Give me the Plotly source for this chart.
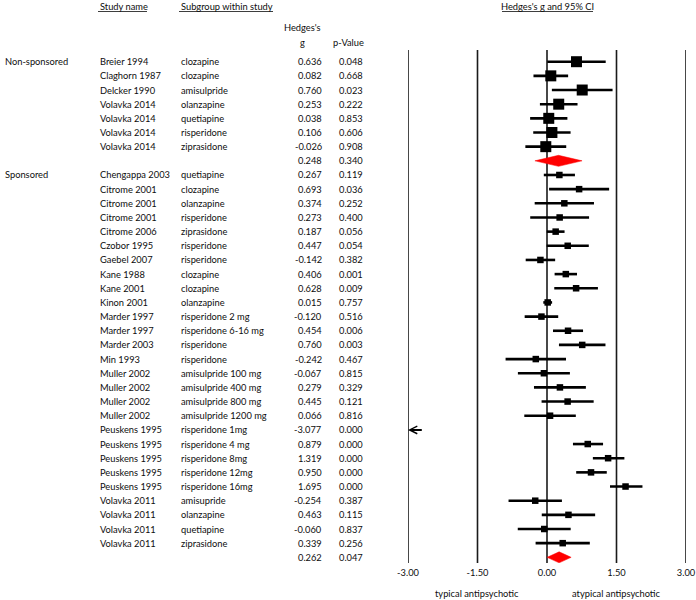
import plotly.graph_objects as go

# ---------------- data ----------------
group_names = ["Non-sponsored", "Sponsored"]

study_group = [0] * 7 + [1] * 27
study_name = [
    "Breier 1994", "Claghorn 1987", "Delcker 1990", "Volavka 2014", "Volavka 2014",
    "Volavka 2014", "Volavka 2014",
    "Chengappa 2003", "Citrome 2001", "Citrome 2001", "Citrome 2001", "Citrome 2006",
    "Czobor 1995", "Gaebel 2007", "Kane 1988", "Kane 2001", "Kinon 2001",
    "Marder 1997", "Marder 1997", "Marder 2003", "Min 1993",
    "Muller 2002", "Muller 2002", "Muller 2002", "Muller 2002",
    "Peuskens 1995", "Peuskens 1995", "Peuskens 1995", "Peuskens 1995", "Peuskens 1995",
    "Volavka 2011", "Volavka 2011", "Volavka 2011", "Volavka 2011",
]
subgroup = [
    "clozapine", "clozapine", "amisulpride", "olanzapine", "quetiapine", "risperidone",
    "ziprasidone",
    "quetiapine", "clozapine", "olanzapine", "risperidone", "ziprasidone",
    "risperidone", "risperidone", "clozapine", "clozapine", "olanzapine",
    "risperidone 2 mg", "risperidone 6-16 mg", "risperidone", "risperidone",
    "amisulpride 100 mg", "amisulpride 400 mg", "amisulpride 800 mg", "amisulpride 1200 mg",
    "risperidone 1mg", "risperidone 4 mg", "risperidone 8mg", "risperidone 12mg",
    "risperidone 16mg",
    "amisupride", "olanzapine", "quetiapine", "ziprasidone",
]
hedges_g = [
    0.636, 0.082, 0.760, 0.253, 0.038, 0.106, -0.026,
    0.267, 0.693, 0.374, 0.273, 0.187, 0.447, -0.142, 0.406, 0.628, 0.015,
    -0.120, 0.454, 0.760, -0.242, -0.067, 0.279, 0.445, 0.066,
    -3.077, 0.879, 1.319, 0.950, 1.695,
    -0.254, 0.463, -0.060, 0.339,
]
p_value = [
    "0.048", "0.668", "0.023", "0.222", "0.853", "0.606", "0.908",
    "0.119", "0.036", "0.252", "0.400", "0.056", "0.054", "0.382", "0.001", "0.009", "0.757",
    "0.516", "0.006", "0.003", "0.467", "0.815", "0.329", "0.121", "0.816",
    "0.000", "0.000", "0.000", "0.000", "0.000",
    "0.387", "0.115", "0.837", "0.256",
]
ci_lower = [
    0.006, -0.292, 0.105, -0.153, -0.364, -0.297, -0.467,
    -0.069, 0.045, -0.266, -0.362, -0.005, -0.008, -0.460, 0.164, 0.157, -0.080,
    -0.482, 0.130, 0.258, -0.894, -0.628, -0.281, -0.117, -0.490,
    -3.470, 0.560, 0.990, 0.630, 1.360,
    -0.830, -0.113, -0.631, -0.246,
]
ci_upper = [
    1.267, 0.456, 1.415, 0.659, 0.440, 0.509, 0.415,
    0.603, 1.341, 1.014, 0.908, 0.379, 0.902, 0.176, 0.648, 1.099, 0.110,
    0.242, 0.778, 1.262, 0.410, 0.494, 0.839, 1.007, 0.622,
    -2.670, 1.210, 1.670, 1.290, 2.060,
    0.322, 1.039, 0.511, 0.924,
]

summary_g = [0.248, 0.262]
summary_p = ["0.340", "0.047"]
summary_lower = [-0.261, 0.003]
summary_upper = [0.757, 0.521]

tick_vals = [-3.0, -1.5, 0.0, 1.5, 3.0]
tick_text = ["-3.00", "-1.50", "0.00", "1.50", "3.00"]
x_range = [-3.0, 3.0]

# ---------------- layout helpers ----------------
W, H = 696, 600
FONT = "Lato"
FS = 9.3
TXT = "#0d0d0d"


def px_x(p):
    return p / W


def px_y(p):
    return 1 - p / H


# build rows
rows = []
r = 0
for gi, gname in enumerate(group_names):
    first = True
    for i, g in enumerate(study_group):
        if g != gi:
            continue
        rows.append(dict(kind="study", row=r, idx=i, group=gname if first else "", gi=gi))
        first = False
        r += 1
    rows.append(dict(kind="summary", row=r, idx=gi, gi=gi))
    r += 1

fig = go.Figure()

# vertical reference lines
row_top, row_bot = -0.826, 35.40
for v in tick_vals:
    fig.add_shape(type="line", xref="x", yref="y", x0=v, x1=v, y0=row_top, y1=row_bot,
                  line=dict(color="#1a1a1a", width=1.6), layer="below")

# CI lines
lx, ly = [], []
for rw in rows:
    if rw["kind"] != "study":
        continue
    i = rw["idx"]
    lo, hi = ci_lower[i], ci_upper[i]
    if hedges_g[i] < x_range[0]:
        continue
    lx += [max(lo, x_range[0]), min(hi, x_range[1]), None]
    ly += [rw["row"], rw["row"], None]
fig.add_trace(go.Scatter(x=lx, y=ly, mode="lines", line=dict(color="black", width=2.6),
                         hoverinfo="skip", showlegend=False, cliponaxis=False))

# squares
for gi, size in [(0, 11), (1, 6.5)]:
    xs, ys = [], []
    for rw in rows:
        if rw["kind"] == "study" and rw["gi"] == gi and hedges_g[rw["idx"]] >= x_range[0]:
            xs.append(hedges_g[rw["idx"]])
            ys.append(rw["row"])
    fig.add_trace(go.Scatter(x=xs, y=ys, mode="markers",
                             marker=dict(symbol="square", size=size, color="black",
                                         line=dict(width=0)),
                             showlegend=False, cliponaxis=False))

# out-of-range arrows
for rw in rows:
    if rw["kind"] == "study" and hedges_g[rw["idx"]] < x_range[0]:
        i = rw["idx"]
        fig.add_annotation(x=x_range[0], y=rw["row"], ax=ci_upper[i], ay=rw["row"],
                           xref="x", yref="y", axref="x", ayref="y", text="",
                           showarrow=True, arrowhead=5, arrowsize=0.75, arrowwidth=2,
                           arrowcolor="black")

# summary diamonds
h = 0.39
for rw in rows:
    if rw["kind"] != "summary":
        continue
    k = rw["idx"]
    y0 = rw["row"]
    fig.add_trace(go.Scatter(
        x=[summary_lower[k], summary_g[k], summary_upper[k], summary_g[k], summary_lower[k]],
        y=[y0, y0 - h, y0, y0 + h, y0], mode="lines", fill="toself",
        fillcolor="#ff0000", line=dict(color="#ff0000", width=0.5),
        showlegend=False, hoverinfo="skip", cliponaxis=False))


# table text
def txt(x, y, s, anchor="left", yref="y", size=FS):
    fig.add_annotation(x=x, y=y, xref="paper", yref=yref, text=s, showarrow=False,
                       xanchor=anchor, yanchor="middle",
                       font=dict(family=FONT, size=size, color=TXT))


for rw in rows:
    y = rw["row"]
    if rw["kind"] == "study":
        i = rw["idx"]
        if rw["group"]:
            txt(px_x(3), y, rw["group"])
        txt(px_x(98), y, study_name[i])
        txt(px_x(179), y, subgroup[i])
        txt(px_x(324), y, f"{hedges_g[i]:.3f}", anchor="right")
        txt(px_x(365), y, p_value[i], anchor="right")
    else:
        k = rw["idx"]
        txt(px_x(324), y, f"{summary_g[k]:.3f}", anchor="right")
        txt(px_x(365), y, summary_p[k], anchor="right")

# headers
txt(px_x(98), px_y(6), "Study name", yref="paper")
txt(px_x(179), px_y(6), "Subgroup within study", yref="paper")
txt(px_x(302), px_y(28), "Hedges's", anchor="center", yref="paper")
txt(px_x(302), px_y(42), "g", anchor="center", yref="paper")
txt(px_x(349), px_y(42), "p-Value", anchor="center", yref="paper")
txt(px_x(547), px_y(6), "Hedges's g and 95% CI", anchor="center", yref="paper")
for x0, x1 in [(98, 147), (179, 273), (502, 593)]:
    fig.add_shape(type="line", xref="paper", yref="paper", x0=px_x(x0), x1=px_x(x1),
                  y0=px_y(11.5), y1=px_y(11.5), line=dict(color=TXT, width=0.8))

# axis side labels
fig.add_annotation(x=-1.5, y=px_y(593), xref="x", yref="paper", text="typical antipsychotic",
                   showarrow=False, xanchor="center", yanchor="middle",
                   font=dict(family=FONT, size=FS, color=TXT))
fig.add_annotation(x=1.5, y=px_y(593), xref="x", yref="paper", text="atypical antipsychotic",
                   showarrow=False, xanchor="center", yanchor="middle",
                   font=dict(family=FONT, size=FS, color=TXT))

fig.update_layout(
    width=W, height=H, margin=dict(l=0, r=0, t=0, b=0, autoexpand=False),
    paper_bgcolor="white", plot_bgcolor="rgba(0,0,0,0)",
    font=dict(family=FONT, size=FS, color=TXT),
    xaxis=dict(domain=[px_x(408), px_x(686)], range=x_range, tickvals=tick_vals,
               ticktext=tick_text, showgrid=False, zeroline=False, showline=False,
               ticks="", automargin=False, ticklabelstandoff=3,
               tickfont=dict(family=FONT, size=FS, color=TXT), fixedrange=True),
    yaxis=dict(domain=[37 / H, 550 / H], range=[row_bot, row_top], visible=False,
               automargin=False, fixedrange=True),
    showlegend=False,
)

fig.write_html("out.html", config={"displayModeBar": False},
               post_script="document.body.style.margin='0px';")
